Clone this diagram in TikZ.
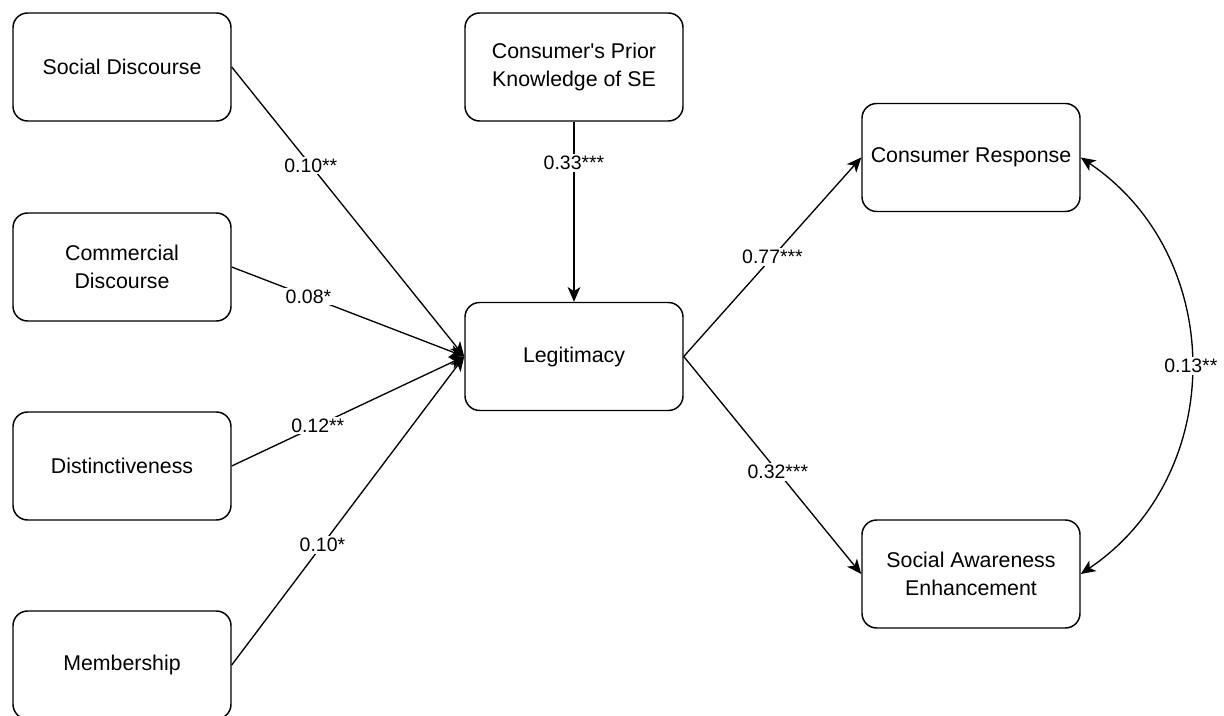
\documentclass[tikz,border=0pt]{standalone}
\usepackage{fontspec}
\setmainfont{Liberation Sans}
\usetikzlibrary{arrows.meta}

\begin{document}
\begin{tikzpicture}[x=0.75pt, y=-0.75pt,
  >={Stealth[length=11pt, width=9.5pt, inset=3pt]},
  box/.style={draw, rounded corners=11pt, line width=1.1pt,
    minimum width=163.5pt, minimum height=81pt, inner sep=0pt,
    align=center, font=\fontsize{16}{21}\selectfont},
  link/.style={->, line width=1pt},
  coef/.style={fill=white, inner sep=1.5pt, font=\fontsize{14.6}{17}\selectfont}
]
\useasboundingbox (0,0) rectangle (1224,716);

% antecedents
\node[box] (sd) at (122,67)  {Social Discourse};
\node[box] (cd) at (122,267) {Commercial\\Discourse};
\node[box] (di) at (122,466) {Distinctiveness};
\node[box] (me) at (122,665) {Membership};

% moderator, mediator and outcomes
\node[box] (pk) at (574,67)    {Consumer\textquotesingle s Prior\\Knowledge of SE};
\node[box] (le) at (574,356.5) {Legitimacy};
\node[box] (cr) at (971,157.5) {Consumer Response};
\node[box] (sa) at (971,574)   {Social Awareness\\Enhancement};

% paths into legitimacy
\draw[link] (sd.east) -- node[coef, pos=0.34] {0.10**} (le.west);
\draw[link] (cd.east) -- node[coef, pos=0.33] {0.08*}  (le.west);
\draw[link] (di.east) -- node[coef, pos=0.37] {0.12**} (le.west);
\draw[link] (me.east) -- node[coef, pos=0.39] {0.10*}  (le.west);
\draw[link] (pk.south) -- node[coef, pos=0.23] {0.33***} (le.north);

% paths out of legitimacy
\draw[link] (le.east) -- node[coef, pos=0.5]  {0.77***} (cr.west);
\draw[link] (le.east) -- node[coef, pos=0.53] {0.32***} (sa.west);

% covariance between outcomes
\draw[<->, line width=1pt] (cr.east) to[out=-34, in=34, looseness=1.09]
  node[coef, pos=0.5] {0.13**} (sa.east);
\end{tikzpicture}
\end{document}
